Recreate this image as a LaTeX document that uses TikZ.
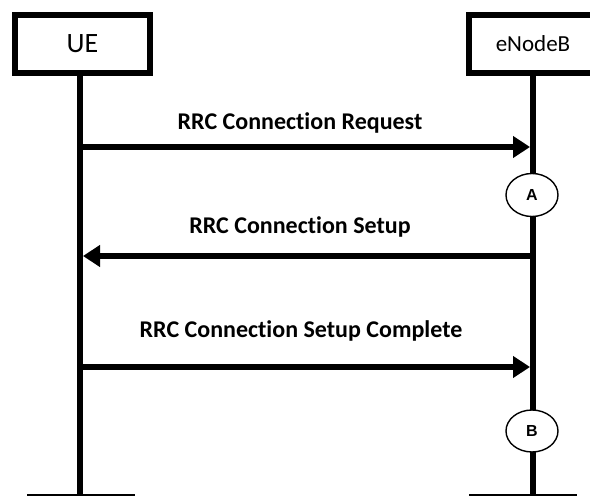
\documentclass[tikz,border=0pt]{standalone}
\usepackage{fontspec}
\setmainfont{Carlito}[RawFeature=-liga]
\newfontfamily\markfont{Liberation Sans}
\usetikzlibrary{arrows.meta,shapes.geometric}

\tikzset{
  entity/.style={draw, line width=6pt, minimum height=58pt, inner sep=0pt,
    font=\fontsize{28}{30}\selectfont},
  lifeline/.style={line width=6pt},
  baseline bar/.style={line width=2.5pt},
  msg/.style={line width=6pt, -{Triangle[length=17pt,width=21pt]}},
  msglabel/.style={font=\bfseries\fontsize{24}{26}\selectfont},
  marker/.style={ellipse, draw, line width=1.4pt, fill=white,
    minimum width=52pt, minimum height=43pt, inner sep=0pt,
    font=\markfont\bfseries\fontsize{16}{18}\selectfont}
}

\begin{document}
\begin{tikzpicture}[x=1pt,y=-1pt]
  \useasboundingbox (0,0) rectangle (590,497);

  % entity boxes
  \node[entity, minimum width=135pt] (ue) at (82.5,44) {UE};
  \draw[line width=6pt] (600,15) -- (469,15) -- (469,73) -- (600,73);
  \node[inner sep=0pt, font=\fontsize{23}{25}\selectfont] (enb) at (533,44) {eNodeB};

  % lifelines
  \coordinate (ueTop) at (80,76);
  \coordinate (ueEnd) at (80,495);
  \coordinate (enbTop) at (533,76);
  \coordinate (enbEnd) at (533,495);
  \draw[lifeline] (ueTop) -- (ueEnd);
  \draw[lifeline] (enbTop) -- (enbEnd);

  % ground bars
  \coordinate (ueL) at (27,495);
  \coordinate (ueR) at (135,495);
  \coordinate (enbL) at (469,495);
  \coordinate (enbR) at (577,495);
  \draw[baseline bar] (ueL) -- (ueR);
  \draw[baseline bar] (enbL) -- (enbR);

  % message anchors on the lifelines
  \coordinate (u1) at (80,147);  \coordinate (e1) at (533,147);
  \coordinate (u2) at (80,256);  \coordinate (e2) at (533,256);
  \coordinate (u3) at (80,367);  \coordinate (e3) at (533,367);

  % messages
  \draw[msg, shorten >=3pt] (u1) -- (e1);
  \node[msglabel] (m1) at (300,123) {RRC Connection Request};
  \draw[msg, shorten >=3pt] (e2) -- (u2);
  \node[msglabel] (m2) at (300,227) {RRC Connection Setup};
  \draw[msg, shorten >=3pt] (u3) -- (e3);
  \node[msglabel] (m3) at (301,331) {RRC Connection Setup Complete};

  % processing markers
  \node[marker] (A) at (532,195) {A};
  \node[marker, minimum height=42pt] (B) at (532,431) {B};
\end{tikzpicture}
\end{document}
